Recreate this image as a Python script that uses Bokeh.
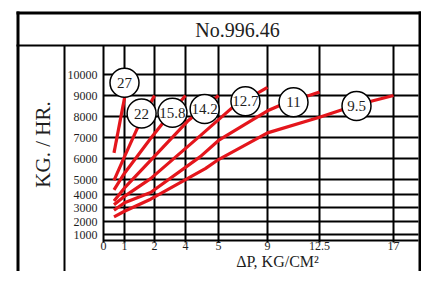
import numpy as np
from bokeh.plotting import figure
from bokeh.models import ColumnDataSource
from bokeh.core.properties import value
from bokeh.embed import file_html
from bokeh.resources import INLINE

# ---------------- data ----------------
title_text = "No.996.46"
x_label = "ΔP, KG/CM²"
y_label = "KG. / HR."

x_ticks = [0, 1, 2, 4, 5, 9, 12.5, 17]
x_tick_labels = ["0", "1", "2", "4", "5", "9", "12.5", "17"]
y_ticks = [1000, 2000, 3000, 4000, 5000, 6000, 7000, 8000, 9000, 10000]
y_tick_labels = ["1000", "2000", "3000", "4000", "5000", "6000", "7000", "8000", "9000", "10000"]

sizes = ["27", "22", "15.8", "14.2", "12.7", "11", "9.5"]
dp_27 = [0.5, 1.03]
kg_27 = [6270, 9100]
dp_22 = [0.5, 1.0, 1.43, 2.0]
kg_22 = [4940, 6090, 7450, 9000]
dp_158 = [0.5, 1.0, 1.87, 2.58, 4.0]
kg_158 = [4310, 5300, 6950, 7730, 9000]
dp_142 = [0.5, 1.0, 1.87, 4.06, 5.0]
kg_142 = [3500, 4440, 5910, 7770, 9000]
dp_127 = [0.5, 1.0, 1.87, 4.45, 6.1, 9.0]
kg_127 = [3210, 3860, 5040, 7090, 8410, 9390]
dp_11 = [0.5, 1.0, 1.87, 4.45, 5.0, 7.6, 9.0, 9.9, 12.5]
kg_11 = [2800, 3360, 4130, 6090, 6860, 7780, 8270, 8550, 9170]
dp_95 = [0.5, 1.0, 1.87, 4.6, 5.0, 9.0, 12.5, 14.75, 17.0]
kg_95 = [2330, 2730, 3640, 5520, 5950, 7220, 7960, 8550, 9000]
label_dp = [1.0, 1.57, 3.16, 4.58, 7.2, 10.75, 14.75]
label_kg = [9610, 8140, 8180, 8360, 8730, 8680, 8500]

# ---------------- layout of the hand-drawn axes ----------------
# position (px from the grid origin) of every grid line of the printed chart
x_grid_pos = [0, 21, 51, 82, 115, 164, 216, 290]
y_map_vals = [0] + y_ticks
y_grid_pos = [0, 6, 19, 33, 46, 61, 82, 103, 124, 145, 166]

W, H = 421, 271
OX, OY = 103, 240          # grid origin on the canvas (px)
GRID_RIGHT = 418 - OX      # right edge of the grid
GRID_TOP = OY - 45         # top edge of the grid (title separator)


def tx(v):
    return np.interp(v, x_ticks, x_grid_pos)


def ty(v):
    return np.interp(v, y_map_vals, y_grid_pos)


def cu(cx):  # canvas x -> plot units
    return cx - OX


def cv(cy):  # canvas y -> plot units
    return OY - cy


serif = "Liberation Serif"
RED = "#e4161c"
INK = "#1e1e1e"

p = figure(width=W, height=H, x_range=(cu(0), cu(W)), y_range=(cv(H), cv(0)),
           output_backend="svg", toolbar_location=None,
           min_border=0, x_axis_type=None, y_axis_type=None)
p.grid.visible = False
p.outline_line_color = None
p.background_fill_color = "white"
p.border_fill_color = "white"

# grid of the chart
vx = list(tx(x_ticks))
p.segment(x0=vx, y0=[-2] * len(vx), x1=vx, y1=[GRID_TOP] * len(vx),
          line_color="black", line_width=2)
hy = [0] + list(ty(y_ticks))
p.segment(x0=[0] * len(hy), y0=hy, x1=[GRID_RIGHT] * len(hy), y1=hy,
          line_color="black", line_width=2)

# frame of the drawing
p.quad(left=[cu(16), cu(16), cu(W - 3), cu(16), cu(63)],
       right=[cu(19), cu(W), cu(W), cu(W), cu(65)],
       top=[cv(11), cv(11), cv(11), cv(44), cv(45)],
       bottom=[cv(H), cv(14), cv(H), cv(46), cv(H)],
       fill_color="black", line_color=None)

# tick labels
p.text(x=list(tx(x_ticks)), y=[cv(245.5)] * len(x_ticks), text=x_tick_labels,
       text_align="center", text_baseline="middle", text_font=value(serif),
       text_font_size="12px", text_color=INK)
p.text(x=[-6] * len(y_ticks), y=list(ty(y_ticks)), text=y_tick_labels,
       text_align="right", text_baseline="middle", text_font=value(serif),
       text_font_size="12px", text_color=INK)

# titles
p.text(x=[cu(237)], y=[cv(29)], text=[title_text], text_align="center",
       text_baseline="middle", text_font=value(serif), text_font_size="20px",
       text_color=INK)
p.text(x=[cu(42)], y=[cv(144)], text=[y_label], angle=np.pi / 2, text_align="center",
       text_baseline="middle", text_font=value(serif), text_font_size="21px",
       text_color=INK)
p.text(x=[cu(277)], y=[cv(260.5)], text=[x_label], text_align="center",
       text_baseline="middle", text_font=value(serif), text_font_size="16px",
       text_color=INK)

# curves
curves = [(dp_27, kg_27), (dp_22, kg_22), (dp_158, kg_158), (dp_142, kg_142),
          (dp_127, kg_127), (dp_11, kg_11), (dp_95, kg_95)]
for dp, kg in curves:
    p.line(tx(dp), ty(kg), line_color=RED, line_width=3.2)

src = ColumnDataSource(dict(x=tx(label_dp), y=ty(label_kg), t=sizes))
p.scatter("x", "y", source=src, marker="circle", size=29, fill_color="white",
          line_color="black", line_width=1.5)
p.text("x", "y", text="t", source=src, text_align="center", text_baseline="middle",
       text_font=value(serif), text_font_size="15px", text_color=INK)

open("out.html", "w").write(file_html(p, INLINE))
